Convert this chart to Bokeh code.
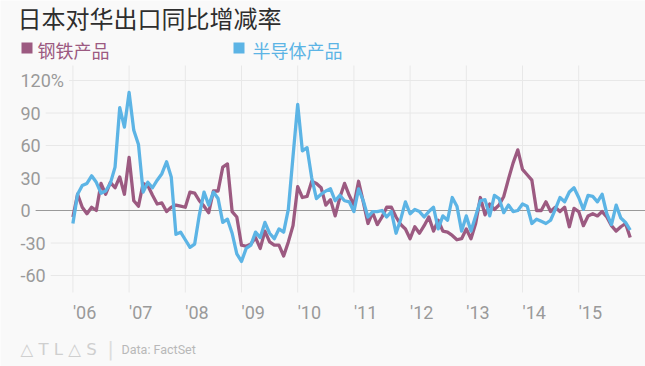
import pandas as pd
from bokeh.plotting import figure
from bokeh.models import Range1d
from bokeh.core.properties import value
from bokeh.embed import file_html
from bokeh.resources import INLINE

# ---------------- data (monthly, Jan 2006 - Dec 2015) ----------------
start_month = "2006-01"
n_months = 120
steel = [-6, 15, 3, -3, 3, 0, 25, 15, 26, 21, 31, 15,
         49, 9, 4, 25, 23, 14, 6, 7, -1, 3, 5, 4,
         3, 17, 16, 9, 4, -2, 18, 18, 40, 43, -1, -6,
         -32, -33, -31, -25, -35, -19, -29, -32, -32, -42, -29, -14,
         22, 12, 13, 27, 25, 21, 5, 10, -5, 12, 25, 14,
         5, 27, 8, -12, -2, -13, -6, 3, 3, -6, -13, -17,
         -26, -15, -21, -14, -6, -19, -9, -19, -20, -23, -27, -26,
         -17, -26, -12, 12, -4, 6, 1, 5, 13, 29, 44, 56,
         38, 33, 28, 0, 0, 8, -1, 3, -1, 3, -15, 2,
         -1, -14, -5, -3, -5, -1, -6, -14, -19, -15, -12, -25]
semi = [-12, 15, 23, 25, 32, 26, 16, 18, 25, 40, 95, 77,
        109, 74, 61, 17, 26, 21, 28, 34, 45, 31, -22, -20,
        -27, -34, -31, -4, 17, 5, 17, 11, -11, -8, -21, -40,
        -47, -35, -32, -20, -25, -11, -21, -26, -17, -20, 1, 50,
        98, 55, 58, 30, 11, 15, 18, 20, 9, 14, 9, 8,
        -1, 20, 9, -6, -1, -1, 0, -6, -1, -21, -8, 8,
        -3, 1, -1, -6, -1, 3, -17, -5, -9, 12, 4, -19,
        -5, -19, -5, 9, 10, -5, 14, 11, -2, 5, -1, 0,
        6, 4, -12, -8, -10, -12, -9, 1, 12, 8, 17, 21,
        12, 1, 14, 13, 8, 15, -3, -13, 5, -7, -11, -18]
series_names = ["钢铁产品", "半导体产品"]
years = [2006, 2007, 2008, 2009, 2010, 2011, 2012, 2013, 2014, 2015]
year_labels = ["'06", "'07", "'08", "'09", "'10", "'11", "'12", "'13", "'14", "'15"]
y_ticks = [120, 90, 60, 30, -30, -60]
y_labels = ["120%", "90", "60", "30", "-30", "-60"]
zero_tick, zero_label = 0, "0"
title_text = "日本对华出口同比增减率"
source_text = "Data: FactSet"
brand_text = "△ T L △ S"

# ---------------- styling / layout ----------------
W, H = 645, 366
BG = "#f9f9f9"
PURPLE = "#9c5a81"
BLUE = "#5cb4e5"
GRID = "#e8e8e8"
TICK = "#9a9a9a"

X0_PX, PX_PER_YEAR = 72.4, 56.2      # pixel of first year, pixels per year
Y0_PX, PX_PER_UNIT = 210.0, 32.5 / 30  # pixel of zero, pixels per percent
BAND_TOP, BAND_BOTTOM, BAND_LEFT = 65, 292, 20


def px_to_x(px):
    return years[0] + (px - X0_PX) / PX_PER_YEAR


def px_to_y(py):
    return (Y0_PX - py) / PX_PER_UNIT


dates = pd.date_range(start_month, periods=n_months, freq="MS")
xs = [d.year + (d.month - 1) / 12 for d in dates]

p = figure(width=W, height=H, output_backend="svg", toolbar_location=None,
           x_axis_type=None, y_axis_type=None, title=None,
           x_range=Range1d(px_to_x(0), px_to_x(W)),
           y_range=Range1d(px_to_y(H), px_to_y(0)),
           min_border=0)
p.background_fill_color = BG
p.border_fill_color = BG
p.outline_line_color = None

# grid lines
p.segment(x0=years, x1=years,
          y0=[px_to_y(BAND_BOTTOM)] * len(years), y1=[px_to_y(BAND_TOP)] * len(years),
          line_color=GRID, line_width=1)
p.segment(x0=[px_to_x(BAND_LEFT)] * len(y_ticks), x1=[px_to_x(W)] * len(y_ticks),
          y0=y_ticks, y1=y_ticks, line_color=GRID, line_width=1)
p.segment(x0=[px_to_x(BAND_LEFT)], x1=[px_to_x(W)], y0=[zero_tick], y1=[zero_tick],
          line_color="#9a9a9a", line_width=1)

# series
p.line(xs, steel, line_color=PURPLE, line_width=3.3, line_join="round")
p.line(xs, semi, line_color=BLUE, line_width=3.3, line_join="round")

# y tick labels (background hides the grid line behind them)
p.text(x=[px_to_x(BAND_LEFT - 5)] * (len(y_ticks) + 1), y=y_ticks + [zero_tick],
       text=y_labels + [zero_label],
       text_align="left", text_baseline="middle",
       text_font=value("Roboto"), text_font_size="18px", text_color=TICK,
       background_fill_color=BG, padding=5)

# x tick labels, left-aligned on the year grid lines
p.text(x=years, y=[px_to_y(311.5)] * len(years), text=year_labels,
       text_align="left", text_baseline="middle",
       text_font=value("Roboto"), text_font_size="18px", text_color=TICK)

# title
p.text(x=[px_to_x(17)], y=[px_to_y(17)], text=[title_text],
       text_align="left", text_baseline="middle",
       text_font=value("Noto Sans CJK SC"), text_font_size="24px", text_color="#2e2e2e")

# legend
p.scatter(x=[px_to_x(26.5), px_to_x(238.5)], y=[px_to_y(47.5)] * 2, marker="square",
          size=11, fill_color=[PURPLE, BLUE], line_color=None)
p.text(x=[px_to_x(37), px_to_x(252)], y=[px_to_y(49.5)] * 2, text=series_names,
       text_align="left", text_baseline="middle",
       text_font=value("Noto Sans CJK SC"), text_font_size="18px",
       text_color=[PURPLE, BLUE])

# footer
p.text(x=[px_to_x(20)], y=[px_to_y(349)], text=[brand_text],
       text_align="left", text_baseline="middle",
       text_font=value("DejaVu Sans"), text_font_size="16.5px", text_color="#cfcfcf")
p.text(x=[px_to_x(110)], y=[px_to_y(348)], text=["|"],
       text_align="center", text_baseline="middle",
       text_font=value("DejaVu Sans"), text_font_size="20px", text_color="#dddddd")
p.text(x=[px_to_x(121)], y=[px_to_y(349)], text=[source_text],
       text_align="left", text_baseline="middle",
       text_font=value("Roboto"), text_font_size="12.5px", text_color="#b8b8b8")

html = file_html(p, INLINE)
open("out.html", "w").write(html)
